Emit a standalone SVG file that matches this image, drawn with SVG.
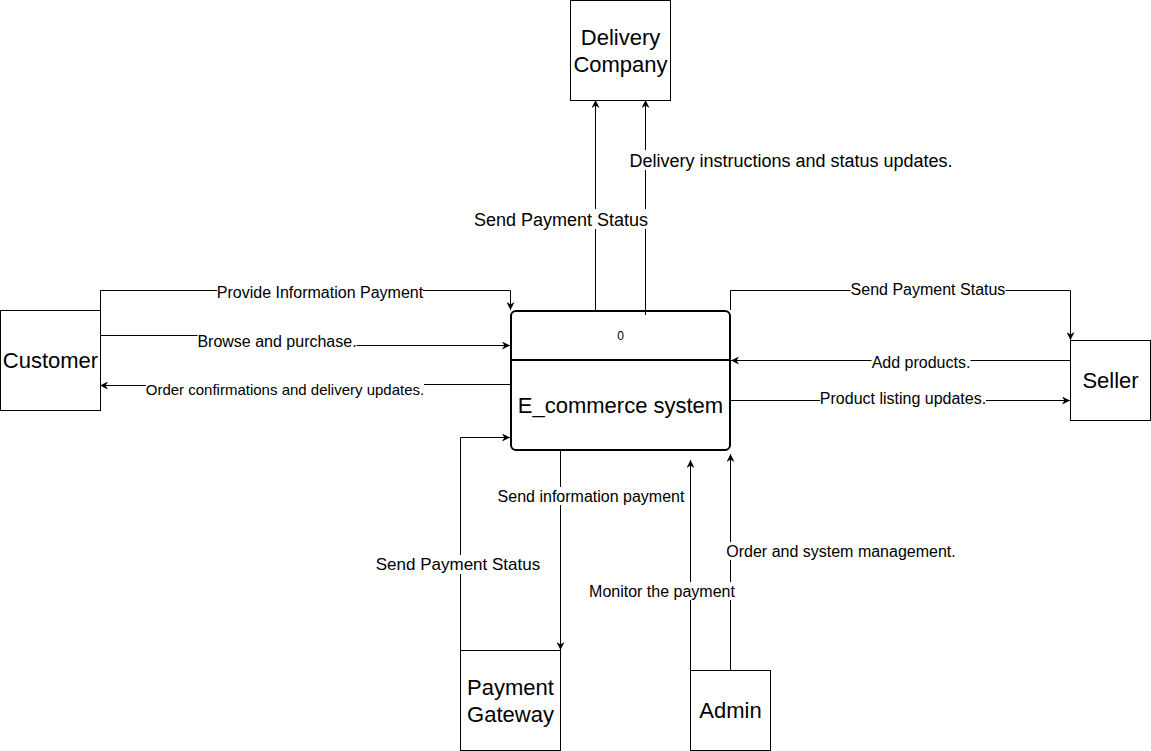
<svg xmlns="http://www.w3.org/2000/svg" width="1151" height="751" viewBox="0 0 1151 751">
<style>
.box{fill:#fff;stroke:#000;stroke-width:1}
.proc{fill:#fff;stroke:#000;stroke-width:2}
.ln{fill:none;stroke:#000;stroke-width:1}
.nt{font-family:"Liberation Sans",Arial,sans-serif;font-size:22px;fill:#000;text-anchor:middle}
.lt{font-family:"Liberation Sans",Arial,sans-serif;font-size:16px;fill:#000;text-anchor:middle}
.bg{fill:#fff}
</style>
<defs>
<marker id="arr" viewBox="0 0 10 10" refX="10" refY="5" markerWidth="8" markerHeight="8" markerUnits="userSpaceOnUse" orient="auto">
<path d="M0,0 L10,5 L0,10 L3,5 z" fill="#000"/>
</marker>
</defs>
<rect width="1151" height="751" fill="#fff"/>
<g id="process">
<rect class="proc" x="511" y="311" width="219" height="139" rx="5" ry="5"/>
<line x1="511" y1="360" x2="730" y2="360" style="stroke:#000;stroke-width:2"/>
<text class="lt" x="620.5" y="339.5" style="font-size:12px">0</text>
<text class="nt" x="620.5" y="412.5">E_commerce system</text>
</g>
<g id="connectors">
<path class="ln" d="M100.5,310 V290.5 H510.5 V310" marker-end="url(#arr)"/>
<path class="ln" d="M100,335.5 H277 V345.5 H510" marker-end="url(#arr)"/>
<path class="ln" d="M510,384.5 H300 V385.5 H100" marker-end="url(#arr)"/>
<path class="ln" d="M595.5,310 V100" marker-end="url(#arr)"/>
<path class="ln" d="M645.5,315 V100" marker-end="url(#arr)"/>
<path class="ln" d="M730.5,310 V290.5 H1070.5 V340" marker-end="url(#arr)"/>
<path class="ln" d="M1070,360.5 H731" marker-end="url(#arr)"/>
<path class="ln" d="M731,400.5 H1070" marker-end="url(#arr)"/>
<path class="ln" d="M460.5,650 V437.5 H510" marker-end="url(#arr)"/>
<path class="ln" d="M560.5,451 V650" marker-end="url(#arr)"/>
<path class="ln" d="M690.5,670 V460" marker-end="url(#arr)"/>
<path class="ln" d="M730.5,670 V454" marker-end="url(#arr)"/>
<rect class="bg" x="217" y="283" width="206" height="18"/>
<text class="lt" x="320" y="297.5">Provide Information Payment</text>
<rect class="bg" x="197.5" y="332" width="159" height="18"/>
<text class="lt" x="277" y="346.5">Browse and purchase.</text>
<rect class="bg" x="146" y="381" width="278" height="17"/>
<text class="lt" x="285" y="395" style="font-size:15px">Order confirmations and delivery updates.</text>
<rect class="bg" x="474" y="209" width="174" height="20"/>
<text class="lt" x="561" y="225.5" style="font-size:18px">Send Payment Status</text>
<rect class="bg" x="629.5" y="150" width="323" height="20"/>
<text class="lt" x="791" y="166.5" style="font-size:18px">Delivery instructions and status updates.</text>
<rect class="bg" x="850.5" y="280" width="155" height="18"/>
<text class="lt" x="928" y="294.5">Send Payment Status</text>
<rect class="bg" x="871.5" y="353" width="99" height="18"/>
<text class="lt" x="921" y="367.5">Add products.</text>
<rect class="bg" x="820" y="389" width="166" height="18"/>
<text class="lt" x="903" y="403.5">Product listing updates.</text>
<rect class="bg" x="497.5" y="487" width="187" height="18"/>
<text class="lt" x="591" y="501.5">Send information payment</text>
<rect class="bg" x="376" y="555" width="164" height="19"/>
<text class="lt" x="458" y="570" style="font-size:17px">Send Payment Status</text>
<rect class="bg" x="589" y="582" width="146" height="18"/>
<text class="lt" x="662" y="596.5">Monitor the payment</text>
<rect class="bg" x="726.5" y="542" width="229" height="18"/>
<text class="lt" x="841" y="556.5">Order and system management.</text>
</g>
<g id="delivery">
<rect class="box" x="570.5" y="0.5" width="100" height="100"/>
<text class="nt" x="620.5" y="44.5">Delivery</text>
<text class="nt" x="620.5" y="71.5">Company</text>
</g>
<g id="customer">
<rect class="box" x="0.5" y="310.5" width="100" height="100"/>
<text class="nt" x="50.5" y="367.5">Customer</text>
</g>
<g id="seller">
<rect class="box" x="1070.5" y="340.5" width="80" height="80"/>
<text class="nt" x="1110.5" y="387.5">Seller</text>
</g>
<g id="gateway">
<rect class="box" x="460.5" y="650.5" width="100" height="100"/>
<text class="nt" x="510.5" y="694.5">Payment</text>
<text class="nt" x="510.5" y="721.5">Gateway</text>
</g>
<g id="admin">
<rect class="box" x="690.5" y="670.5" width="80" height="80"/>
<text class="nt" x="730.5" y="717.5">Admin</text>
</g>
</svg>
